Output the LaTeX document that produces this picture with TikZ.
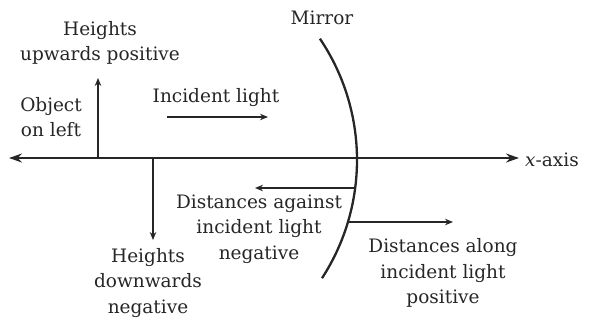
\documentclass[tikz,border=0pt]{standalone}
\usepackage{fontspec}
\setmainfont{DejaVu Serif}
\usetikzlibrary{arrows.meta}
\begin{document}
\begin{tikzpicture}[x=1pt,y=-1pt,
  lbl/.style={font=\fontsize{18.5}{25.5}\selectfont, text=black!85, align=center, inner sep=0pt},
  ln/.style={line width=2.3pt, draw=black!85},
  smallarrow/.style={ln,-{Stealth[length=8pt,width=6.5pt]}}]
\useasboundingbox (0,0) rectangle (597,325);
% axis
\coordinate (axL) at (9,158);
\coordinate (axR) at (519,158);
\draw[ln,{Stealth[length=13pt,width=9pt]}-{Stealth[length=13pt,width=9pt]}] (axL) -- (axR);
\node[lbl, anchor=west] (xaxis) at (525,160) {\textit{x}-axis};
% heights
\coordinate (upB) at (98,158);
\coordinate (upT) at (98,78);
\draw[smallarrow] (upB) -- (upT);
\coordinate (dnT) at (153,158);
\coordinate (dnB) at (153,240);
\draw[smallarrow] (dnT) -- (dnB);
\node[lbl] (hup) at (100,43) {Heights\\upwards positive};
\node[lbl] (obj) at (51,117) {Object\\on left};
\node[lbl] (hdn) at (148,283) {Heights\\downwards\\negative};
% incident light
\node[lbl] (inc) at (216,98) {Incident light};
\coordinate (iA) at (167,117);
\coordinate (iB) at (268,117);
\draw[smallarrow] (iA) -- (iB);
% mirror
\coordinate (mc) at (140,160);
\draw[ln] (mc) ++(33:217) arc (33:-34:217) coordinate (mbot);
\node[lbl] (mir) at (322,18) {Mirror};
% distances
\coordinate (agA) at (355,188);
\coordinate (agB) at (255,188);
\draw[smallarrow] (agA) -- (agB);
\node[lbl] (against) at (259,229) {Distances against\\incident light\\negative};
\coordinate (alA) at (349,222);
\coordinate (alB) at (453,222);
\draw[smallarrow] (alA) -- (alB);
\node[lbl] (along) at (443,273) {Distances along\\incident light\\positive};
\end{tikzpicture}
\end{document}
